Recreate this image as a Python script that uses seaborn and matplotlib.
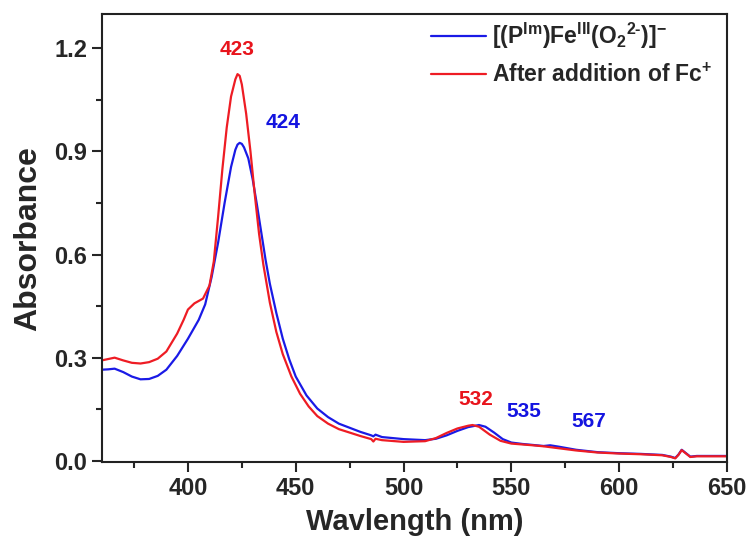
import numpy as np
import pandas as pd
import matplotlib
matplotlib.use("Agg")
import matplotlib.pyplot as plt
import seaborn as sns
from matplotlib.ticker import MultipleLocator

# Blue: [(P^Im)Fe^III(O2^2-)]^-
wl_blue = [360, 363, 366, 370, 374, 378, 382, 386, 390, 395, 400, 405, 408, 411, 414, 417, 420, 422, 423,
           424, 425, 426, 428, 430, 432, 434, 436, 438, 441, 444, 447, 450, 455, 460, 465, 470, 480, 485,
           486, 487, 490, 500, 510, 515, 520, 525, 530, 535, 538, 542, 546, 550, 555, 560, 565, 568, 572,
           580, 590, 600, 610, 620, 624, 626, 627.5, 629, 631, 633, 636, 640, 650]
abs_blue = [0.265, 0.266, 0.268, 0.258, 0.245, 0.237, 0.238, 0.247, 0.265, 0.305, 0.355, 0.41, 0.455,
            0.535, 0.635, 0.75, 0.855, 0.905, 0.92, 0.925, 0.922, 0.912, 0.88, 0.82, 0.745, 0.665, 0.585,
            0.515, 0.43, 0.355, 0.295, 0.245, 0.19, 0.152, 0.127, 0.108, 0.084, 0.074, 0.071, 0.076,
            0.069, 0.063, 0.060, 0.064, 0.074, 0.087, 0.098, 0.104, 0.099, 0.082, 0.063, 0.053, 0.049,
            0.046, 0.043, 0.045, 0.041, 0.032, 0.025, 0.022, 0.020, 0.017, 0.012, 0.008, 0.018, 0.032,
            0.022, 0.012, 0.014, 0.014, 0.014]

# Red: after addition of Fc+
wl_red = [360, 363, 366, 370, 374, 378, 382, 386, 390, 395, 398, 400, 403, 407, 410, 412, 414, 416, 418,
          420, 422, 423, 424, 425, 427, 429, 431, 433, 435, 438, 441, 444, 448, 452, 456, 460, 465, 470,
          480, 485, 486, 487, 490, 500, 510, 515, 520, 525, 530, 532, 535, 540, 545, 550, 560, 565, 570,
          580, 590, 600, 610, 620, 624, 626, 627.5, 629, 631, 633, 636, 640, 650]
abs_red = [0.292, 0.296, 0.300, 0.292, 0.285, 0.283, 0.287, 0.297, 0.318, 0.37, 0.41, 0.44, 0.458, 0.472,
           0.51, 0.58, 0.71, 0.85, 0.97, 1.06, 1.11, 1.125, 1.12, 1.095, 1.01, 0.9, 0.775, 0.66, 0.57,
           0.46, 0.375, 0.31, 0.245, 0.195, 0.158, 0.13, 0.108, 0.092, 0.072, 0.063, 0.056, 0.064, 0.060,
           0.055, 0.057, 0.066, 0.081, 0.094, 0.102, 0.104, 0.099, 0.076, 0.058, 0.050, 0.045, 0.042,
           0.038, 0.030, 0.024, 0.021, 0.019, 0.016, 0.011, 0.007, 0.017, 0.031, 0.021, 0.011, 0.013,
           0.013, 0.013]

label_blue = r"[(P$^{\mathbf{Im}}$)Fe$^{\mathbf{III}}$(O$_{\mathbf{2}}$$^{\mathbf{2\text{-}}}$)]$^{\mathbf{-}}$"
label_red = r"After addition of Fc$^{\mathbf{+}}$"

peak_labels = ["423", "424", "532", "535", "567"]
peak_x = [422.6, 443.9, 533.7, 555.9, 586.0]
peak_y = [1.196, 0.984, 0.177, 0.142, 0.113]
peak_colors = ["#e8141c", "#1414e0", "#e8141c", "#1414e0", "#1414e0"]

sns.set_theme(style="ticks")
plt.rcParams["font.family"] = ["Liberation Sans", "DejaVu Sans"]
plt.rcParams["font.weight"] = "bold"
plt.rcParams["mathtext.fontset"] = "custom"
plt.rcParams["mathtext.rm"] = "Liberation Sans:bold"
plt.rcParams["mathtext.bf"] = "Liberation Sans:bold"
plt.rcParams["mathtext.it"] = "Liberation Sans:bold"

df = pd.concat([
    pd.DataFrame({"wl": wl_blue, "abs": abs_blue, "series": label_blue}),
    pd.DataFrame({"wl": wl_red, "abs": abs_red, "series": label_red}),
])

fig = plt.figure(figsize=(7.51, 5.38), dpi=100)
ax = fig.add_axes([0.1354, 0.141, 0.8326, 0.833])
sns.lineplot(data=df, x="wl", y="abs", hue="series", sort=False,
             palette={label_blue: "#1a1ae6", label_red: "#ee1c24"}, linewidth=1.6, ax=ax)

ax.set_xlim(360, 650)
ax.set_ylim(-0.004, 1.30)
ax.xaxis.set_major_locator(MultipleLocator(50))
ax.xaxis.set_minor_locator(MultipleLocator(25))
ax.yaxis.set_major_locator(MultipleLocator(0.3))
ax.yaxis.set_minor_locator(MultipleLocator(0.15))
ax.yaxis.set_major_formatter(matplotlib.ticker.FormatStrFormatter("%.1f"))
ax.tick_params(which="major", direction="out", length=7, width=1.5, labelsize=17)
ax.tick_params(which="minor", direction="out", length=4, width=1.5)
for lab in ax.get_xticklabels() + ax.get_yticklabels():
    lab.set_fontweight("bold")
for s in ax.spines.values():
    s.set_linewidth(1.5)
    s.set_color("#222222")

ax.set_xlabel("Wavlength (nm)", fontsize=21, fontweight="bold", labelpad=6)
ax.set_ylabel("Absorbance", fontsize=23, fontweight="bold", labelpad=8)

for t, x, y, c in zip(peak_labels, peak_x, peak_y, peak_colors):
    ax.text(x, y, t, color=c, fontsize=15, fontweight="bold", ha="center", va="center")

leg = ax.legend(loc="upper left", frameon=False, fontsize=16.5, handlelength=2.4,
                handletextpad=0.25, bbox_to_anchor=(0.527, 0.984), borderaxespad=0,
                borderpad=0, labelspacing=0.55)
for txt in leg.get_texts():
    txt.set_fontweight("bold")

fig.savefig("out.png", dpi=100)
